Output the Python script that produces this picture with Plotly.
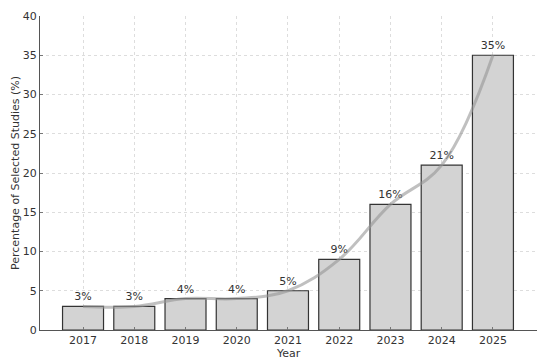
import plotly.graph_objects as go

years = ["2017", "2018", "2019", "2020", "2021", "2022", "2023", "2024", "2025"]
percentages = [3, 3, 4, 4, 5, 9, 16, 21, 35]
labels = [f"{p}%" for p in percentages]

fig = go.Figure()

fig.add_trace(go.Bar(
    x=years, y=percentages, width=0.8,
    marker=dict(color="#d3d3d3", line=dict(color="#333333", width=1.2)),
    text=labels, textposition="outside",
    textfont=dict(family="DejaVu Sans", size=11, color="#333333"),
    cliponaxis=False, showlegend=False,
))

# tendance lissée
fig.add_trace(go.Scatter(
    x=years, y=percentages, mode="lines",
    line=dict(shape="spline", smoothing=1.1, color="rgba(150,150,150,0.6)", width=3),
    showlegend=False, hoverinfo="skip",
))

# la page html ajoute 8px de marge autour de la figure
fig.update_layout(
    width=542, height=354,
    margin=dict(l=32, r=13, t=8, b=32),
    paper_bgcolor="white", plot_bgcolor="white",
    font=dict(family="DejaVu Sans", size=11, color="#333333"),
    bargap=0.2,
    shapes=[dict(type="line", xref="paper", yref="paper", x0=-0.05, x1=0.97,
                 y0=1.032, y1=1.032, line=dict(color="#f0f0f0", width=1))],
    annotations=[dict(text="Year", xref="paper", yref="paper", x=0.5, y=-0.076,
                      xanchor="center", yanchor="middle", showarrow=False,
                      font=dict(size=11, color="#333333"))],
)

fig.update_xaxes(
    type="category", range=[-0.84, 8.86], automargin=False,
    showline=True, linecolor="#555555", linewidth=1.2,
    ticks="inside", ticklen=3, tickcolor="#777777",
    showgrid=True, gridcolor="#dddddd", griddash="dot", gridwidth=1,
)
fig.update_yaxes(
    range=[0, 40], dtick=5, automargin=False,
    showline=True, linecolor="#555555", linewidth=1.2,
    ticks="inside", ticklen=3, tickcolor="#777777",
    showgrid=True, gridcolor="#dddddd", griddash="dot", gridwidth=1,
    zeroline=False,
    title=dict(text="Percentage of Selected Studies (%)", standoff=0, font=dict(size=11)),
)

fig.write_html("out.html")
